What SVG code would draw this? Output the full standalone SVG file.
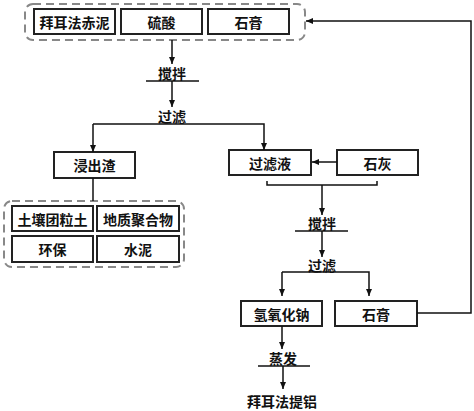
<svg xmlns="http://www.w3.org/2000/svg" width="474" height="411" viewBox="0 0 474 411">
<style>
.box{fill:#fff;stroke:#222;stroke-width:2}
.grp{fill:none;stroke:#888;stroke-width:2;stroke-dasharray:8 5}
.t{font-family:"Noto Sans CJK SC","Noto Sans CJK JP",sans-serif;font-size:14px;font-weight:bold;fill:#111;text-anchor:middle;dominant-baseline:central}
.ln{fill:none;stroke:#111;stroke-width:1.5}
</style>
<defs>
<marker id="ah" markerWidth="8" markerHeight="8" refX="7" refY="4" orient="auto" markerUnits="userSpaceOnUse">
<path d="M0,1 L7,4 L0,7 Z" fill="#111"/>
</marker>
</defs>
<rect width="474" height="411" fill="#fff"/>
<g id="group-top">
<rect class="grp" x="25" y="4" width="280" height="36" rx="8"/>
</g>
<g id="n-chini"><rect class="box" x="34" y="9" width="81" height="25"/><text class="t" x="74.5" y="21.5">拜耳法赤泥</text></g>
<g id="n-liusuan"><rect class="box" x="121" y="9" width="81" height="25"/><text class="t" x="161.5" y="21.5">硫酸</text></g>
<g id="n-shigao1"><rect class="box" x="208" y="9" width="81" height="25"/><text class="t" x="248.5" y="21.5">石膏</text></g>
<g id="group-bottom">
<rect class="grp" x="4" y="201" width="180" height="66" rx="8"/>
</g>
<g id="n-jinchuzha"><rect class="box" x="54" y="152" width="81" height="26"/><text class="t" x="94.5" y="165">浸出渣</text></g>
<g id="n-turang"><rect class="box" x="12" y="206" width="81" height="25"/><text class="t" x="52.5" y="218.5">土壤团粒土</text></g>
<g id="n-dizhi"><rect class="box" x="97" y="206" width="82" height="25"/><text class="t" x="138" y="218.5">地质聚合物</text></g>
<g id="n-huanbao"><rect class="box" x="12" y="236" width="81" height="26"/><text class="t" x="52.5" y="249">环保</text></g>
<g id="n-shuini"><rect class="box" x="97" y="236" width="82" height="26"/><text class="t" x="138" y="249">水泥</text></g>
<g id="n-guolvye"><rect class="box" x="229" y="150" width="82" height="25"/><text class="t" x="270" y="162.5">过滤液</text></g>
<g id="n-shihui"><rect class="box" x="337" y="150" width="81" height="25"/><text class="t" x="377.5" y="162.5">石灰</text></g>
<g id="n-naoh"><rect class="box" x="241" y="301" width="81" height="25"/><text class="t" x="281.5" y="313.5">氢氧化钠</text></g>
<g id="n-shigao2"><rect class="box" x="335" y="301" width="82" height="25"/><text class="t" x="376" y="313.5">石膏</text></g>
<g id="n-tilv"><text class="t" x="282" y="401">拜耳法提铝</text></g>
<g id="connectors">
<line class="ln" x1="172" y1="40" x2="172" y2="64" marker-end="url(#ah)"/>
<text class="t" x="172" y="73">搅拌</text>
<line class="ln" x1="146" y1="81" x2="199" y2="81"/>
<line class="ln" x1="172" y1="81" x2="172" y2="107" marker-end="url(#ah)"/>
<text class="t" x="172" y="116">过滤</text>
<polyline class="ln" points="93,124 264,124 264,150" marker-end="url(#ah)"/>
<line class="ln" x1="93" y1="124" x2="93" y2="152" marker-end="url(#ah)"/>
<line class="ln" x1="93" y1="178" x2="93" y2="201"/>
<line class="ln" x1="337" y1="162" x2="312" y2="162" marker-end="url(#ah)"/>
<polyline class="ln" points="267,181 267,185 377,185 377,181"/>
<line class="ln" x1="322" y1="185" x2="322" y2="215" marker-end="url(#ah)"/>
<text class="t" x="322" y="223">搅拌</text>
<line class="ln" x1="295" y1="231" x2="348" y2="231"/>
<line class="ln" x1="322" y1="231" x2="322" y2="257" marker-end="url(#ah)"/>
<text class="t" x="322" y="265">过滤</text>
<polyline class="ln" points="282,272 369,272 369,296" marker-end="url(#ah)"/>
<line class="ln" x1="282" y1="272" x2="282" y2="296" marker-end="url(#ah)"/>
<polyline class="ln" points="417,313 471,313 471,21 306,21" marker-end="url(#ah)"/>
<line class="ln" x1="282" y1="326" x2="282" y2="349" marker-end="url(#ah)"/>
<text class="t" x="283" y="358">蒸发</text>
<line class="ln" x1="258" y1="366" x2="310" y2="366"/>
<line class="ln" x1="283" y1="366" x2="283" y2="389" marker-end="url(#ah)"/>
</g>
</svg>
